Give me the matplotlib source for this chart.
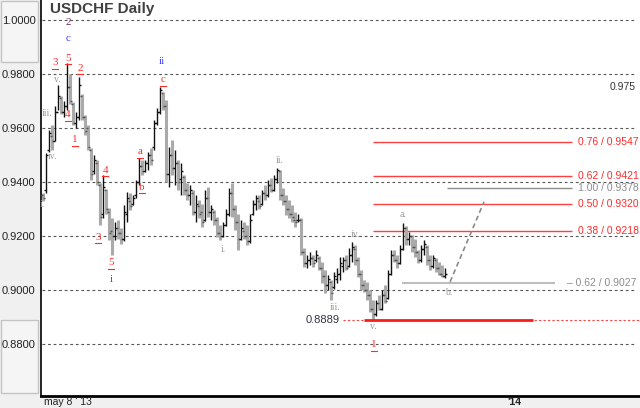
import matplotlib
matplotlib.use("Agg")
import matplotlib.pyplot as plt
from matplotlib.patches import Rectangle
from matplotlib.transforms import offset_copy

plt.rcParams['font.family'] = ['Liberation Sans', 'DejaVu Sans']

# daily OHLC bars, may 8 '13 onwards
bar_open = [0.935, 0.937, 0.952, 0.957, 0.955, 0.966, 0.971, 0.966, 0.968, 0.975,
            0.969, 0.962, 0.964, 0.972, 0.964, 0.960, 0.952, 0.944, 0.947, 0.939,
            0.928, 0.937, 0.929, 0.922, 0.920, 0.923, 0.921, 0.919, 0.928, 0.933,
            0.932, 0.935, 0.940, 0.946, 0.944, 0.947, 0.950, 0.953, 0.962, 0.966,
            0.973, 0.968, 0.943, 0.950, 0.945, 0.947, 0.941, 0.942, 0.937, 0.935,
            0.936, 0.929, 0.931, 0.929, 0.926, 0.934, 0.929, 0.929, 0.926, 0.921,
            0.920, 0.924, 0.928, 0.936, 0.930, 0.925, 0.919, 0.922, 0.920, 0.918,
            0.928, 0.932, 0.933, 0.932, 0.936, 0.935, 0.939, 0.937, 0.941, 0.944,
            0.935, 0.933, 0.930, 0.928, 0.926, 0.926, 0.926, 0.914, 0.910, 0.911,
            0.912, 0.911, 0.912, 0.908, 0.905, 0.902, 0.903, 0.901, 0.904, 0.906,
            0.909, 0.911, 0.909, 0.913, 0.915, 0.911, 0.906, 0.902, 0.900, 0.898,
            0.893, 0.891, 0.895, 0.893, 0.898, 0.897, 0.906, 0.913, 0.911, 0.910,
            0.915, 0.923, 0.919, 0.920, 0.916, 0.914, 0.911, 0.915, 0.916, 0.911,
            0.909, 0.911, 0.908, 0.906, 0.905]
bar_high = [0.9360, 0.9507, 0.9593, 0.9610, 0.9680, 0.9759, 0.9720, 0.9700, 0.9841, 0.9800,
            0.9695, 0.9660, 0.9789, 0.9725, 0.9648, 0.9611, 0.9525, 0.9500, 0.9480, 0.9395,
            0.9426, 0.9375, 0.9305, 0.9267, 0.9250, 0.9260, 0.9230, 0.9315, 0.9363, 0.9360,
            0.9350, 0.9407, 0.9489, 0.9480, 0.9480, 0.9510, 0.9526, 0.9630, 0.9674, 0.9752,
            0.9735, 0.9704, 0.9530, 0.9556, 0.9520, 0.9480, 0.9470, 0.9426, 0.9396, 0.9390,
            0.9370, 0.9350, 0.9333, 0.9320, 0.9370, 0.9380, 0.9315, 0.9296, 0.9270, 0.9241,
            0.9250, 0.9300, 0.9378, 0.9396, 0.9315, 0.9280, 0.9260, 0.9250, 0.9240, 0.9280,
            0.9333, 0.9350, 0.9350, 0.9370, 0.9390, 0.9407, 0.9415, 0.9426, 0.9452, 0.9445,
            0.9378, 0.9352, 0.9333, 0.9315, 0.9290, 0.9280, 0.9267, 0.9156, 0.9130, 0.9140,
            0.9130, 0.9148, 0.9125, 0.9104, 0.9074, 0.9056, 0.9037, 0.9067, 0.9081, 0.9122,
            0.9122, 0.9130, 0.9156, 0.9178, 0.9167, 0.9122, 0.9074, 0.9037, 0.9030, 0.9000,
            0.8963, 0.8963, 0.8981, 0.9000, 0.9019, 0.9074, 0.9148, 0.9148, 0.9130, 0.9167,
            0.9248, 0.9235, 0.9215, 0.9204, 0.9190, 0.9148, 0.9167, 0.9185, 0.9165, 0.9130,
            0.9130, 0.9119, 0.9104, 0.9093, 0.9081]
bar_low = [0.9330, 0.9359, 0.9511, 0.9520, 0.9550, 0.9667, 0.9650, 0.9640, 0.9667, 0.9690,
           0.9611, 0.9600, 0.9630, 0.9630, 0.9574, 0.9519, 0.9407, 0.9430, 0.9390, 0.9241,
           0.9265, 0.9280, 0.9185, 0.9130, 0.9185, 0.9190, 0.9170, 0.9180, 0.9252, 0.9296,
           0.9315, 0.9340, 0.9390, 0.9426, 0.9435, 0.9444, 0.9463, 0.9520, 0.9610, 0.9650,
           0.9667, 0.9400, 0.9381, 0.9426, 0.9390, 0.9370, 0.9350, 0.9352, 0.9333, 0.9315,
           0.9278, 0.9250, 0.9267, 0.9233, 0.9255, 0.9270, 0.9260, 0.9241, 0.9196, 0.9185,
           0.9195, 0.9235, 0.9275, 0.9270, 0.9222, 0.9148, 0.9185, 0.9190, 0.9167, 0.9175,
           0.9278, 0.9296, 0.9300, 0.9315, 0.9333, 0.9344, 0.9363, 0.9365, 0.9396, 0.9333,
           0.9315, 0.9278, 0.9267, 0.9252, 0.9233, 0.9252, 0.9130, 0.9085, 0.9081, 0.9093,
           0.9085, 0.9104, 0.9074, 0.9026, 0.8989, 0.9000, 0.8963, 0.9005, 0.9026, 0.9037,
           0.9067, 0.9074, 0.9085, 0.9104, 0.9093, 0.9048, 0.9000, 0.8993, 0.8963, 0.8919,
           0.8889, 0.8905, 0.8926, 0.8925, 0.8952, 0.8965, 0.9055, 0.9104, 0.9081, 0.9095,
           0.9148, 0.9167, 0.9167, 0.9140, 0.9122, 0.9100, 0.9104, 0.9130, 0.9093, 0.9074,
           0.9081, 0.9067, 0.9056, 0.9048, 0.9045]
bar_close = [0.934, 0.950, 0.958, 0.955, 0.966, 0.972, 0.966, 0.968, 0.975, 0.970,
             0.962, 0.964, 0.976, 0.964, 0.959, 0.953, 0.943, 0.948, 0.940, 0.927,
             0.938, 0.930, 0.921, 0.920, 0.923, 0.921, 0.919, 0.929, 0.934, 0.931,
             0.934, 0.940, 0.946, 0.944, 0.947, 0.950, 0.948, 0.962, 0.966, 0.974,
             0.968, 0.943, 0.950, 0.945, 0.947, 0.940, 0.944, 0.937, 0.935, 0.937,
             0.929, 0.932, 0.928, 0.925, 0.934, 0.929, 0.930, 0.926, 0.921, 0.920,
             0.924, 0.928, 0.936, 0.930, 0.925, 0.919, 0.923, 0.920, 0.918, 0.926,
             0.932, 0.934, 0.931, 0.936, 0.935, 0.939, 0.937, 0.941, 0.9445, 0.935,
             0.933, 0.930, 0.928, 0.927, 0.925, 0.926, 0.914, 0.910, 0.911, 0.912,
             0.910, 0.913, 0.908, 0.905, 0.902, 0.904, 0.899, 0.905, 0.906, 0.910,
             0.911, 0.908, 0.913, 0.916, 0.911, 0.906, 0.902, 0.900, 0.898, 0.893,
             0.891, 0.895, 0.893, 0.898, 0.896, 0.906, 0.913, 0.911, 0.910, 0.915,
             0.923, 0.919, 0.920, 0.916, 0.914, 0.911, 0.915, 0.917, 0.911, 0.909,
             0.912, 0.908, 0.906, 0.905, 0.906]

y_ticks = [0.88, 0.90, 0.92, 0.94, 0.96, 0.98, 1.00]

# fibonacci levels (ratio, price)
fib_red_ratio = ["0.76", "0.62", "0.50", "0.38"]
fib_red_price = [0.9547, 0.9421, 0.9320, 0.9218]
fib_gray_ratio = ["1.00", "0.62"]
fib_gray_price = [0.9378, 0.9027]
low_price = 0.8889

# wave labels: text, bar index, price, colour key, underlined
wave_text = ["2", "c", "5", "3", "2", "4", "1", "4", "3", "5", "i",
             "a", "b", "c", "ii", "1"]
wave_x = [8.3, 8.3, 8.3, 4.0, 12.3, 8.3, 10.7, 20.7, 18.3, 22.7, 22.7,
          32.3, 33.0, 40.0, 39.7, 110.3]
wave_y = [0.9990, 0.9933, 0.9859, 0.9841, 0.9822, 0.9648, 0.9556, 0.9444, 0.9196, 0.9100,
          0.9037, 0.9511, 0.9381, 0.9778, 0.9848, 0.8796]
wave_col = ["purple", "blue", "red", "red", "red", "red", "red", "red", "red", "red", "blue",
            "red", "red", "red", "blue", "red"]
wave_ul = [False, False, True, True, True, True, True, True, True, True, False,
           True, True, True, False, True]

sub_text = ["i.", "iii.", "iv.", "v.", "i.", "ii.", "iii.", "iv.", "v.", "a.", "b."]
sub_x = [-0.3, 1.3, 3.3, 4.7, 60.0, 79.0, 97.3, 104.3, 110.0, 120.0, 135.3]
sub_y = [0.9315, 0.9652, 0.9493, 0.9778, 0.9148, 0.9481, 0.8933, 0.9204, 0.8863, 0.9278, 0.8989]

colors = {"red": "#ff2a2a", "blue": "#3a3aff", "purple": "#7a2a6a"}

fig = plt.figure(figsize=(6.4, 4.08), dpi=100, facecolor="#f0f0f0")
W, H = 640, 408

# left panel boxes (behind the axes and its tick labels)
for (x0, y0, w, h) in [(1, 1, 37, 61), (1, 320, 37, 73)]:
    fig.patches.append(Rectangle((x0 / W, 1 - (y0 + h) / H), w / W, h / H,
                                 transform=fig.transFigure, facecolor="#f5f5f5",
                                 edgecolor="#c4c4c4", lw=1, zorder=-5))

ax = fig.add_axes([41 / W, 12 / H, 599 / W, 396 / H])
ax.set_facecolor("white")
ax.set_xlim(-0.667, 199)
ax.set_ylim(0.8607, 1.0074)

for s in ["top", "right"]:
    ax.spines[s].set_visible(False)
ax.spines["left"].set_linewidth(1.2)
ax.spines["bottom"].set_linewidth(2)

ax.set_yticks(y_ticks)
ax.set_yticklabels([f"{v:.4f}" for v in y_ticks], fontsize=8, color="#222222")
ax.tick_params(axis="y", length=0, pad=4)
ax.set_xticks([])

for v in y_ticks:
    ax.axhline(v, xmin=0.002, xmax=0.992, color="#555555", lw=0.8,
               ls=(0, (2.5, 2.5)), zorder=1)

# bars
for i in range(len(bar_close)):
    o, h, l, c = bar_open[i], bar_high[i], bar_low[i], bar_close[i]
    if c >= o:
        ax.vlines(i, l, h, color="#111111", lw=1.0, zorder=3)
        tick_col = "#111111"
    else:
        ax.vlines(i, l, h, color="#aaaaaa", lw=2.2, zorder=3)
        tick_col = "#555555"
    ax.hlines(o, i - 0.6, i, color=tick_col, lw=1, zorder=4)
    ax.hlines(c, i, i + 0.6, color=tick_col, lw=1, zorder=4)

# fib lines
for r, p in zip(fib_red_ratio, fib_red_price):
    ax.hlines(p, 110, 176.3, color="#ff4040", lw=1, zorder=2)
    ax.text(178.3, p, f"{r} / {p:.4f}", color="#ff2a2a", fontsize=7.5,
            va="center", ha="left")
ax.hlines(fib_gray_price[0], 134.7, 176.3, color="#8c8c8c", lw=1, zorder=2)
ax.text(178.3, fib_gray_price[0], f"{fib_gray_ratio[0]} / {fib_gray_price[0]:.4f}",
        color="#8c8c8c", fontsize=7.5, va="center", ha="left")
ax.hlines(fib_gray_price[1], 119.7, 170.7, color="#bdbdbd", lw=1.5, zorder=2)
ax.text(174.7, fib_gray_price[1], f"\u2013 {fib_gray_ratio[1]} / {fib_gray_price[1]:.4f}",
        color="#8c8c8c", fontsize=7.5, va="center", ha="left")

# projected move
ax.plot([135.7, 147.0], [0.9030, 0.9326], color="#8a8a8a", lw=1.2,
        ls=(0, (3, 2)), zorder=2)

# swing low
ax.hlines(low_price, 100, 199, color="#ff4040", lw=0.8, ls=(0, (2, 2)), zorder=2)
ax.hlines(low_price, 107, 163.3, color="#ff1a1a", lw=2, zorder=3)
ax.text(99, low_price, f"{low_price:.4f}", color="#333344", fontsize=8,
        va="center", ha="right")

ax.text(197.7, 0.9752, "0.975", color="#333333", fontsize=7.5, va="center", ha="right")

# wave counts
under = offset_copy(ax.transData, fig=fig, y=-6, units="dots")
for t, x, y, c, ul in zip(wave_text, wave_x, wave_y, wave_col, wave_ul):
    ax.text(x, y, t, color=colors[c], fontsize=8, family="Liberation Serif",
            ha="center", va="center", zorder=5)
    if ul:
        ax.plot([x - 1.1, x + 1.1], [y, y], color=colors[c], lw=0.8,
                transform=under, zorder=5)
for t, x, y in zip(sub_text, sub_x, sub_y):
    ax.text(x, y, t, color="#9a9a9a", fontsize=7, family="Liberation Serif",
            ha="center", va="center", zorder=5)

fig.text(50 / W, 1 - 9 / H, "USDCHF Daily", fontsize=11, fontweight="bold",
         color="#404040", va="center", ha="left")
fig.text(44 / W, 1 - 402 / H, "may 8 ' 13", fontsize=7.5, color="#222222",
         va="center", ha="left")
fig.text(514 / W, 1 - 402 / H, "'14", fontsize=7.5, fontweight="bold",
         color="#222222", va="center", ha="center")

fig.savefig("out.png", dpi=100, facecolor=fig.get_facecolor())
